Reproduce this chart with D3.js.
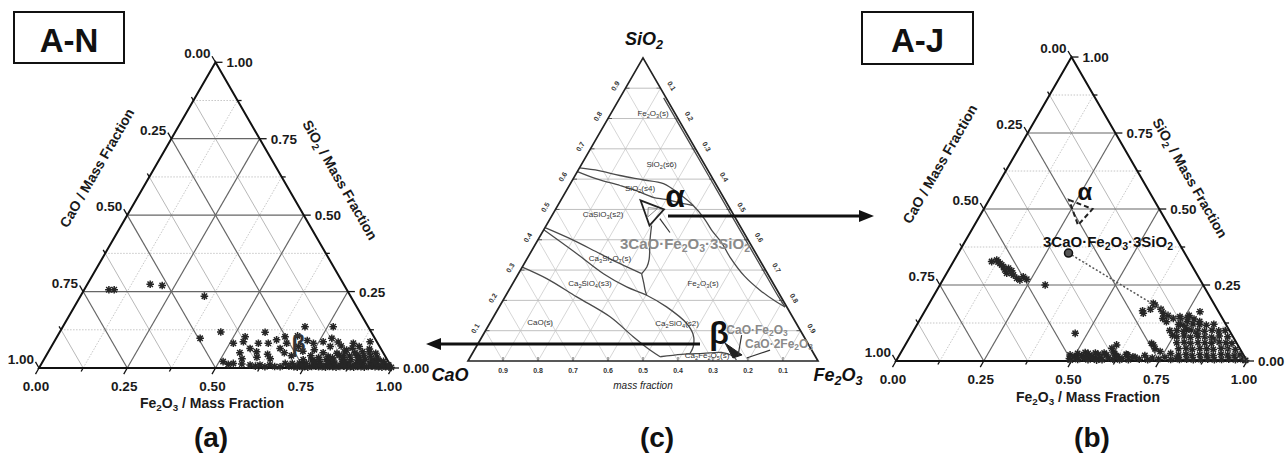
<!DOCTYPE html>
<html>
<head>
<meta charset="utf-8">
<script src="https://cdn.jsdelivr.net/npm/d3@7"></script>
<style>
body { margin: 0; background: #fff; }
text { font-family: "Liberation Sans", Arial, sans-serif; }
</style>
</head>
<body>
<div id="chart"></div>
<script>
// ---- data (ternary coords: [Fe2O3, SiO2], CaO = 1 - Fe2O3 - SiO2) ----
var majorTicks = [0, 0.25, 0.5, 0.75, 1];
var majorLabels = ["0.00", "0.25", "0.50", "0.75", "1.00"];
var minorTicks = [0.125, 0.375, 0.625, 0.875];
var phaseTicks = [0.1, 0.2, 0.3, 0.4, 0.5, 0.6, 0.7, 0.8, 0.9];

var pointsA = [
  [0.070,0.256],[0.085,0.256],[0.178,0.274],[0.214,0.270],[0.351,0.235],[0.408,0.097],[0.456,0.118],
  [0.510,0.081],[0.536,0.086],[0.533,0.102],[0.544,0.050],[0.566,0.064],[0.581,0.081],[0.582,0.117],
  [0.590,0.053],[0.609,0.081],[0.627,0.092],[0.646,0.102],[0.651,0.064],[0.661,0.081],[0.686,0.135],
  [0.700,0.070],[0.715,0.090],[0.737,0.081],[0.762,0.086],[0.766,0.135],[0.781,0.097],[0.790,0.070],
  [0.805,0.085],[0.842,0.059],[0.850,0.081],[0.872,0.070],[0.895,0.086],[0.625,0.045],[0.670,0.050],
  [0.680,0.105],[0.720,0.055],[0.750,0.060],[0.695,0.040],[0.560,0.030],[0.600,0.035],[0.640,0.030],
  [0.511,0.021],[0.530,0.012],[0.543,0.015],[0.568,0.013],[0.593,0.010],[0.610,0.006],[0.621,0.010],
  [0.638,0.004],[0.649,0.010],[0.665,0.005],[0.681,0.004],[0.690,0.015],[0.705,0.006],
  [0.720,0.004],[0.730,0.003],[0.740,0.005],[0.750,0.004],[0.760,0.003],[0.770,0.005],[0.780,0.006],
  [0.790,0.004],[0.800,0.004],[0.810,0.003],[0.820,0.005],[0.830,0.004],[0.840,0.003],[0.850,0.005],
  [0.860,0.006],[0.870,0.004],[0.880,0.004],[0.890,0.003],[0.900,0.005],[0.910,0.004],[0.920,0.003],
  [0.930,0.005],[0.940,0.006],[0.950,0.004],[0.960,0.004],[0.970,0.003],[0.980,0.004],[0.990,0.003],[0.997,0.002],
  [0.710,0.015],[0.730,0.016],[0.740,0.012],[0.750,0.014],[0.770,0.016],[0.780,0.012],[0.790,0.015],
  [0.810,0.014],[0.820,0.012],[0.830,0.016],[0.850,0.015],[0.860,0.012],[0.870,0.016],[0.890,0.014],
  [0.900,0.012],[0.910,0.015],[0.930,0.016],[0.940,0.012],[0.950,0.014],[0.970,0.013],[0.985,0.010],
  [0.735,0.027],[0.760,0.026],[0.770,0.022],[0.780,0.028],[0.800,0.027],[0.810,0.022],[0.820,0.026],
  [0.845,0.028],[0.855,0.022],[0.870,0.027],[0.890,0.026],[0.900,0.022],[0.910,0.028],[0.930,0.026],
  [0.940,0.021],[0.950,0.025],[0.965,0.022],
  [0.750,0.040],[0.775,0.034],[0.800,0.038],[0.815,0.033],[0.830,0.041],[0.845,0.035],[0.860,0.039],
  [0.880,0.042],[0.890,0.034],[0.900,0.040],[0.920,0.038],[0.940,0.036],
  [0.780,0.050],[0.820,0.048],[0.840,0.052],[0.870,0.050],[0.890,0.053],[0.910,0.052],[0.930,0.048],
  [0.855,0.065],[0.905,0.062],[0.820,0.072]
];

var pointsB = [
  [0.109,0.327],[0.121,0.332],[0.136,0.321],[0.143,0.316],[0.151,0.310],[0.168,0.305],[0.171,0.289],
  [0.181,0.297],[0.193,0.283],[0.208,0.272],[0.224,0.277],[0.220,0.266],[0.238,0.269],[0.128,0.326],
  [0.160,0.300],[0.186,0.288],
  [0.300,0.250],[0.465,0.091],
  [0.486,0.020],[0.490,0.008],[0.495,0.003],[0.500,0.015],[0.505,0.025],[0.510,0.010],[0.515,0.005],
  [0.520,0.018],[0.525,0.028],[0.530,0.010],[0.535,0.025],[0.540,0.015],[0.545,0.004],[0.550,0.016],
  [0.555,0.026],[0.560,0.008],[0.565,0.022],[0.570,0.003],[0.575,0.012],[0.580,0.026],[0.585,0.004],
  [0.590,0.020],[0.594,0.042],[0.600,0.010],[0.605,0.030],[0.610,0.025],[0.615,0.006],[0.620,0.016],
  [0.625,0.015],[0.635,0.004],[0.640,0.008],[0.645,0.022],[0.650,0.020],[0.660,0.004],[0.668,0.014],
  [0.675,0.012],[0.690,0.006],[0.700,0.018],[0.707,0.053],[0.715,0.004],[0.725,0.010],[0.737,0.031],
  [0.745,0.006],[0.760,0.012],[0.699,0.058],[0.602,0.053],[0.718,0.040],
  [0.638,0.190],[0.646,0.184],[0.626,0.157],[0.620,0.165],[0.640,0.170],[0.683,0.157],[0.670,0.170],
  [0.706,0.129],[0.736,0.146],[0.720,0.140],[0.785,0.162],[0.760,0.150],[0.777,0.102],[0.750,0.120],
  [0.730,0.100],[0.745,0.085],[0.765,0.130],[0.700,0.150],[0.690,0.140],
  [0.740,0.140],[0.760,0.142],[0.780,0.138],
  [0.745,0.120],[0.765,0.118],[0.785,0.122],[0.805,0.120],[0.825,0.118],[0.845,0.121],
  [0.750,0.100],[0.770,0.098],[0.790,0.102],[0.810,0.100],[0.830,0.098],[0.850,0.101],[0.870,0.099],[0.888,0.100],
  [0.760,0.080],[0.780,0.082],[0.800,0.078],[0.820,0.081],[0.840,0.080],[0.860,0.078],[0.880,0.082],[0.905,0.080],
  [0.770,0.060],[0.790,0.062],[0.810,0.058],[0.830,0.061],[0.850,0.060],[0.870,0.058],[0.890,0.062],[0.910,0.060],[0.928,0.058],
  [0.785,0.040],[0.805,0.042],[0.825,0.038],[0.845,0.041],[0.865,0.040],[0.885,0.038],[0.905,0.042],[0.925,0.040],[0.948,0.038],
  [0.795,0.020],[0.815,0.022],[0.835,0.018],[0.855,0.021],[0.875,0.020],[0.895,0.018],[0.915,0.022],[0.935,0.020],[0.955,0.018],[0.970,0.020],
  [0.805,0.005],[0.825,0.006],[0.845,0.004],[0.865,0.005],[0.885,0.006],[0.905,0.004],[0.925,0.005],[0.945,0.006],[0.965,0.004],[0.985,0.005],
  [0.780,0.005],[0.770,0.025],[0.795,0.009],[0.995,0.002],[0.800,0.130],[0.811,0.091],[0.870,0.069]
];

var alphaTri = [[0.228,0.530],[0.310,0.500],[0.295,0.447]];
var alphaInner = [[0.262,0.506],[0.290,0.503],[0.276,0.475]];
var compound = [0.314, 0.355];   // 3CaO·Fe2O3·3SiO2
var fe2o3Corner = [1, 0];

// phase boundaries of panel (c)
var curveU = [[0,0.637],[0.06,0.628],[0.128,0.612],[0.2,0.598],[0.266,0.585],[0.33,0.55],[0.387,0.513],
  [0.44,0.47],[0.481,0.431],[0.53,0.39],[0.577,0.343],[0.65,0.28],[0.72,0.232],[0.78,0.197],[0.817,0.178]];
var curveL = [[0,0.625],[0.07,0.6],[0.145,0.579],[0.2,0.562],[0.259,0.54],[0.298,0.533],[0.356,0.519],[0.387,0.513]];
var curveR = [[0.125,0.868],[0.2,0.793],[0.3,0.693],[0.4,0.593],[0.5,0.493],[0.6,0.393],[0.7,0.293],[0.78,0.213],[0.817,0.178]];
var curveA = [[0,0.44],[0.09,0.4035],[0.2,0.354],[0.274,0.321],[0.352,0.288]];
var curveV = [[0.301,0.447],[0.321,0.398],[0.350,0.335],[0.356,0.310],[0.352,0.288]];
var curveD = [[0.352,0.288],[0.375,0.255],[0.389,0.234],[0.402,0.217]];
var curveB = [[0,0.433],[0.134,0.354],[0.243,0.288],[0.331,0.2445],[0.402,0.217],[0.478,0.1786],
  [0.563,0.1237],[0.601,0.0855],[0.620,0.047],[0.622,0.024]];
var curveC = [[0,0.31],[0.089,0.272],[0.205,0.2115],[0.333,0.1457],[0.432,0.08],[0.502,0.036],[0.542,0.014]];
var curveE = [[0.542,0.014],[0.6,0.022],[0.66,0.025],[0.71,0.028],[0.745,0.018],[0.765,0.004]];
var phaseCurves = [curveU, curveL, curveR, curveA, curveV, curveD, curveB, curveC, curveE];

var phaseNames = ["Fe_2O_3(s)", "SiO_2(s6)", "SiO_2(s4)", "CaSiO_3(s2)", "Ca_3Si_2O_7(s)",
  "Ca_2SiO_4(s3)", "Fe_2O_3(s)", "CaO(s)", "Ca_2SiO_4(s2)", "Ca_2Fe_2O_5(s)"];
var phasePos = [[0.119,0.819],[0.228,0.650],[0.207,0.569],[0.144,0.484],[0.236,0.339],
  [0.220,0.257],[0.543,0.257],[0.142,0.128],[0.535,0.125],[0.673,0.020]];

var betaWedge = [[0.705,0.059],[0.773,0.020],[0.752,0.010]];

// ---- drawing ----
var W = 1286, H = 455;
var svg = d3.select("#chart").append("svg")
  .attr("width", W).attr("height", H)
  .style("background", "#fff");

var S3 = Math.sqrt(3) / 2;

function makeTern(x0, y0, side) {
  var sx = d3.scaleLinear().domain([0, 1]).range([x0, x0 + side]);
  var sy = d3.scaleLinear().domain([0, 1]).range([y0, y0 - side * S3]);
  return function(fe, si) { return [sx(fe + si / 2), sy(si)]; };
}

// text with "_2" subscripts
function rich(sel, s) {
  var parts = s.split(/_(\d)/);
  parts.forEach(function(t, i) {
    if (!t) return;
    var ts = sel.append("tspan").text(t);
    if (i % 2 == 1) ts.attr("baseline-shift", "-28%").attr("font-size", "70%");
  });
  return sel;
}

var starPath = "M-3.8,0H3.8M0,-3.8V3.8M-2.7,-2.7L2.7,2.7M-2.7,2.7L2.7,-2.7";

function drawScatterPanel(cfg, points) {
  var g = svg.append("g");
  var p = makeTern(cfg.x0, cfg.y0, cfg.side);
  var line = d3.line();

  function gridSeg(v, fam) {
    if (fam == "si") return [p(0, v), p(1 - v, v)];
    if (fam == "fe") return [p(v, 0), p(v, 1 - v)];
    return [p(0, 1 - v), p(1 - v, 0)]; // constant CaO
  }

  // minor grid
  minorTicks.forEach(function(v) {
    g.append("path").attr("d", line(gridSeg(v, "si")))
      .attr("stroke", "#b8b8b8").attr("stroke-width", 0.8).attr("stroke-dasharray", "1.5,1.5").attr("fill", "none");
    g.append("path").attr("d", line(gridSeg(v, "fe")))
      .attr("stroke", "#b8b8b8").attr("stroke-width", 0.8).attr("stroke-dasharray", "1.5,1.5").attr("fill", "none");
    g.append("path").attr("d", line(gridSeg(v, "ca")))
      .attr("stroke", "#b0b0b0").attr("stroke-width", 0.9).attr("fill", "none");
  });
  // major grid
  majorTicks.slice(1, 4).forEach(function(v) {
    ["si", "fe", "ca"].forEach(function(f) {
      g.append("path").attr("d", line(gridSeg(v, f)))
        .attr("stroke", "#666").attr("stroke-width", 1.2).attr("fill", "none");
    });
  });

  // ticks
  var dirL = [-0.5, -S3], dirR = [1, 0], dirB = [-0.5, S3];
  function tick(pt, dir, len) {
    g.append("line").attr("x1", pt[0]).attr("y1", pt[1])
      .attr("x2", pt[0] + dir[0] * len).attr("y2", pt[1] + dir[1] * len)
      .attr("stroke", "#111").attr("stroke-width", 1.3);
  }
  minorTicks.forEach(function(v) {
    tick(p(0, 1 - v), dirL, 4);
    tick(p(1 - v, v), dirR, 4);
    tick(p(v, 0), dirB, 4);
  });
  majorTicks.forEach(function(v, i) {
    var pl = p(0, 1 - v), pr = p(1 - v, v), pb = p(v, 0);
    tick(pl, dirL, 7); tick(pr, dirR, 7); tick(pb, dirB, 7);
    g.append("text").attr("x", pl[0] - 5).attr("y", pl[1] - 4)
      .attr("text-anchor", "end").attr("font-size", 13.5).attr("font-weight", "bold").attr("fill", "#1a1a1a").text(majorLabels[i]);
    g.append("text").attr("x", pr[0] + 11).attr("y", pr[1] + 5)
      .attr("font-size", 13.5).attr("font-weight", "bold").attr("fill", "#1a1a1a").text(majorLabels[i]);
    g.append("text").attr("x", pb[0] - 3).attr("y", pb[1] + 23)
      .attr("text-anchor", "middle").attr("font-size", 13.5).attr("font-weight", "bold").attr("fill", "#1a1a1a").text(majorLabels[i]);
  });

  // frame
  g.append("path").attr("d", line([p(0, 0), p(1, 0), p(0, 1)]) + "Z")
    .attr("fill", "none").attr("stroke", "#111").attr("stroke-width", 2);

  // axis titles
  rich(g.append("text").attr("text-anchor", "middle").attr("font-size", 14).attr("font-weight", "bold").attr("fill", "#1a1a1a")
    .attr("transform", "translate(" + cfg.caoT + ") rotate(-60)").attr("dy", "0.35em"), "CaO / Mass Fraction");
  rich(g.append("text").attr("text-anchor", "middle").attr("font-size", 14).attr("font-weight", "bold").attr("fill", "#1a1a1a")
    .attr("transform", "translate(" + cfg.sioT + ") rotate(60)").attr("dy", "0.35em"), "SiO_2 / Mass Fraction");
  rich(g.append("text").attr("text-anchor", "middle").attr("font-size", 14).attr("font-weight", "bold").attr("fill", "#1a1a1a")
    .attr("x", cfg.feT[0]).attr("y", cfg.feT[1]), "Fe_2O_3 / Mass Fraction");

  // points
  g.append("g").selectAll("path").data(points).enter().append("path")
    .attr("d", starPath)
    .attr("transform", function(d) { return "translate(" + p(d[0], d[1]) + ")"; })
    .attr("stroke", "#262626").attr("stroke-width", 1.5).attr("fill", "none");

  // box + panel letter
  svg.append("rect").attr("x", cfg.box[0]).attr("y", cfg.box[1]).attr("width", cfg.box[2]).attr("height", cfg.box[3])
    .attr("fill", "#fff").attr("stroke", "#111").attr("stroke-width", 2);
  svg.append("text").attr("x", cfg.box[0] + cfg.box[2] / 2).attr("y", cfg.box[1] + 40)
    .attr("text-anchor", "middle").attr("font-family", "DejaVu Sans").attr("font-weight", "bold")
    .attr("font-size", 33).attr("fill", "#111").text(cfg.name);
  svg.append("text").attr("x", cfg.letter[0]).attr("y", 447)
    .attr("text-anchor", "middle").attr("font-family", "DejaVu Sans").attr("font-weight", "bold")
    .attr("font-size", 28).attr("fill", "#111").text(cfg.letter[1]);
  return p;
}

var pa = drawScatterPanel({x0: 39, y0: 368, side: 353, caoT: [97, 168], sioT: [340, 180], feT: [212, 408],
  box: [14, 12, 110, 51], name: "A-N", letter: [211, "(a)"]}, pointsA);
var pb = drawScatterPanel({x0: 896, y0: 361, side: 351, caoT: [940, 164], sioT: [1190, 178], feT: [1088, 402],
  box: [862, 12, 111, 52], name: "A-J", letter: [1092, "(b)"]}, pointsB);

// beta in (a)
svg.append("text").attr("x", pa(0.695, 0.08)[0]).attr("y", pa(0.695, 0.08)[1] + 8)
  .attr("text-anchor", "middle").attr("font-size", 23).attr("font-weight", "bold").attr("fill", "#333").text("β");

// annotations in (b)
var lineB = d3.line().x(function(d) { return pb(d[0], d[1])[0]; }).y(function(d) { return pb(d[0], d[1])[1]; });
svg.append("path").attr("d", lineB([compound, fe2o3Corner]))
  .attr("stroke", "#555").attr("stroke-width", 1.5).attr("stroke-dasharray", "2,2").attr("fill", "none");
svg.append("path").attr("d", lineB(alphaTri) + "Z")
  .attr("stroke", "#222").attr("stroke-width", 2).attr("stroke-dasharray", "5,3").attr("fill", "none");
svg.append("circle").attr("cx", pb(compound[0], compound[1])[0]).attr("cy", pb(compound[0], compound[1])[1])
  .attr("r", 4).attr("fill", "#555").attr("stroke", "#111").attr("stroke-width", 1.5);
svg.append("text").attr("x", 1085).attr("y", 200).attr("text-anchor", "middle")
  .attr("font-size", 24).attr("font-weight", "bold").attr("fill", "#111").text("α");
rich(svg.append("text").attr("x", 1108).attr("y", 247).attr("text-anchor", "middle")
  .attr("font-size", 15).attr("font-weight", "bold").attr("fill", "#111"), "3CaO·Fe_2O_3·3SiO_2");

// ---- panel (c): phase diagram ----
var pc = makeTern(468, 361, 350);
var gc = svg.append("g");
var lineC = d3.line().x(function(d) { return pc(d[0], d[1])[0]; }).y(function(d) { return pc(d[0], d[1])[1]; });

phaseTicks.forEach(function(v) {
  gc.append("path").attr("d", lineC([[0, v], [1 - v, v]])).attr("stroke", "#b0b0b0").attr("stroke-width", 0.8).attr("fill", "none");
  gc.append("path").attr("d", lineC([[v, 0], [v, 1 - v]])).attr("stroke", "#c4c4c4").attr("stroke-width", 0.7).attr("fill", "none");
  gc.append("path").attr("d", lineC([[0, 1 - v], [1 - v, 0]])).attr("stroke", "#c4c4c4").attr("stroke-width", 0.7).attr("fill", "none");
  // ticks
  var b = pc(1 - v, 0), l = pc(0, v), r = pc(v, 1 - v);
  gc.append("line").attr("x1", b[0]).attr("y1", b[1]).attr("x2", b[0]).attr("y2", b[1] - 4).attr("stroke", "#555");
  gc.append("line").attr("x1", l[0]).attr("y1", l[1]).attr("x2", l[0] + 4).attr("y2", l[1]).attr("stroke", "#555");
  gc.append("line").attr("x1", r[0]).attr("y1", r[1]).attr("x2", r[0] - 4).attr("y2", r[1]).attr("stroke", "#555");
  gc.append("text").attr("x", b[0]).attr("y", b[1] + 12).attr("text-anchor", "middle")
    .attr("font-size", 7).attr("font-weight", "bold").attr("fill", "#333").text(v.toFixed(1));
  gc.append("text").attr("transform", "translate(" + (l[0] - 8) + "," + (l[1] - 1) + ") rotate(-60)")
    .attr("text-anchor", "middle").attr("font-size", 7).attr("font-weight", "bold").attr("fill", "#333").text(v.toFixed(1));
  gc.append("text").attr("transform", "translate(" + (r[0] + 9) + "," + (r[1] - 1) + ") rotate(60)")
    .attr("text-anchor", "middle").attr("font-size", 7).attr("font-weight", "bold").attr("fill", "#333").text(v.toFixed(1));
});

phaseCurves.forEach(function(c) {
  gc.append("path").attr("d", lineC.curve(d3.curveCatmullRom)(c))
    .attr("stroke", "#4a4a4a").attr("stroke-width", 1.3).attr("fill", "none");
});
lineC.curve(d3.curveLinear);

gc.append("path").attr("d", lineC([[0, 0], [1, 0], [0, 1]]) + "Z")
  .attr("fill", "none").attr("stroke", "#222").attr("stroke-width", 1.7);

phaseNames.forEach(function(n, i) {
  var q = pc(phasePos[i][0], phasePos[i][1]);
  rich(gc.append("text").attr("x", q[0]).attr("y", q[1]).attr("dy", "0.35em").attr("text-anchor", "middle")
    .attr("font-size", 8).attr("fill", "#333"), n);
});

// alpha region in (c)
gc.append("path").attr("d", lineC(alphaTri) + "Z").attr("fill", "none").attr("stroke", "#222").attr("stroke-width", 1.8);
gc.append("path").attr("d", lineC(alphaInner) + "Z").attr("fill", "none").attr("stroke", "#888").attr("stroke-width", 1);
gc.append("path").attr("d", lineC([[0.313, 0.470], [0.365, 0.424]])).attr("stroke", "#333").attr("stroke-width", 1.2);
gc.append("text").attr("x", 675).attr("y", 207).attr("text-anchor", "middle")
  .attr("font-size", 32).attr("font-weight", "bold").attr("fill", "#111").text("α");
rich(gc.append("text").attr("x", 685).attr("y", 249).attr("text-anchor", "middle")
  .attr("font-size", 15).attr("font-weight", "bold").attr("fill", "#8a8a8a"), "3CaO·Fe_2O_3·3SiO_2");

// beta region in (c)
gc.append("path").attr("d", lineC(betaWedge) + "Z").attr("fill", "#222").attr("stroke", "#222");
gc.append("path").attr("d", lineC([[0.739, 0.0855], [0.762, 0.0197]])).attr("stroke", "#333").attr("stroke-width", 1.2);
gc.append("path").attr("d", lineC([[0.845, 0.036], [0.791, 0.010]])).attr("stroke", "#333").attr("stroke-width", 1.2);
gc.append("text").attr("x", 719).attr("y", 344).attr("text-anchor", "middle")
  .attr("font-size", 32).attr("font-weight", "bold").attr("fill", "#111").text("β");
rich(gc.append("text").attr("x", 757).attr("y", 334).attr("text-anchor", "middle")
  .attr("font-size", 12).attr("font-weight", "bold").attr("fill", "#8a8a8a"), "CaO·Fe_2O_3");
rich(gc.append("text").attr("x", 779).attr("y", 348).attr("text-anchor", "middle")
  .attr("font-size", 12).attr("font-weight", "bold").attr("fill", "#8a8a8a"), "CaO·2Fe_2O_3");

// corner labels
function corner(x, y, s) {
  rich(gc.append("text").attr("x", x).attr("y", y).attr("text-anchor", "middle")
    .attr("font-size", 18).attr("font-weight", "bold").attr("font-style", "italic").attr("fill", "#111"), s);
}
corner(644, 45, "SiO_2");
corner(450, 381, "CaO");
corner(838, 381, "Fe_2O_3");
gc.append("text").attr("x", 643).attr("y", 389).attr("text-anchor", "middle")
  .attr("font-size", 10).attr("font-style", "italic").attr("fill", "#222").text("mass fraction");
svg.append("text").attr("x", 657).attr("y", 447).attr("text-anchor", "middle")
  .attr("font-family", "DejaVu Sans").attr("font-weight", "bold").attr("font-size", 28).attr("fill", "#111").text("(c)");

// arrows
function arrow(x1, x2, y) {
  var dir = x2 > x1 ? 1 : -1;
  svg.append("line").attr("x1", x1).attr("y1", y).attr("x2", x2 - dir * 12).attr("y2", y)
    .attr("stroke", "#111").attr("stroke-width", 3);
  svg.append("path").attr("d", "M" + x2 + "," + y + "L" + (x2 - dir * 15) + "," + (y - 6) + "L" + (x2 - dir * 15) + "," + (y + 6) + "Z")
    .attr("fill", "#111");
}
arrow(668, 874, 216);
arrow(700, 426, 344);
</script>
</body>
</html>
